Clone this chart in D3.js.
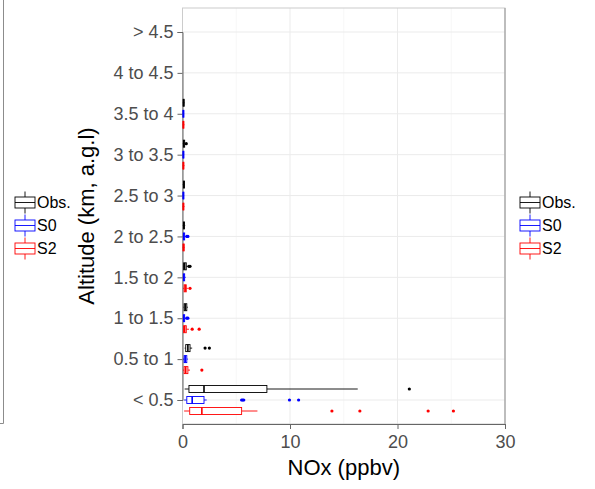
<!DOCTYPE html>
<html><head><meta charset="utf-8">
<script src="https://cdn.jsdelivr.net/npm/d3@7"></script>
<style>body{margin:0;background:#fff}svg{display:block;font-family:"Liberation Sans",Arial,sans-serif}</style>
</head><body>
<svg id="c" width="595" height="489"></svg>
<script>
// Altitude bins, bottom to top
const categories = ["< 0.5","0.5 to 1","1 to 1.5","1.5 to 2","2 to 2.5","2.5 to 3","3 to 3.5","3.5 to 4","4 to 4.5","> 4.5"];
const seriesNames = ["Obs.","S0","S2"];
const seriesColors = ["#000000","#0000ff","#ff0000"];
const xTicks = [0,10,20,30];
// box stats per bin: [lower whisker, q1, median, q3, upper whisker]
const obsStats = [[0.2,0.6,2.0,7.85,16.3],[0.2,0.3,0.5,0.7,0.9],[0.1,0.15,0.25,0.4,0.5],[0.05,0.1,0.2,0.35,0.5],[0.03,0.08,0.12,0.18,0.25],[0.03,0.08,0.12,0.18,0.22],[0.03,0.08,0.12,0.2,0.28],[0.03,0.07,0.1,0.15,0.2],null,null];
const obsOutliers = [[21.1],[2.1,2.5],[],[0.6,0.7],[],[],[0.35],[],[],[]];
const s0Stats = [[0.15,0.4,0.9,2.0,2.25],[0.05,0.15,0.25,0.4,0.5],[0.03,0.08,0.12,0.2,0.3],[0.03,0.08,0.12,0.2,0.3],[0.03,0.08,0.12,0.2,0.3],[0.02,0.05,0.08,0.1,0.15],[0.02,0.05,0.08,0.1,0.15],[0.02,0.05,0.08,0.1,0.15],null,null];
const s0Outliers = [[5.5,5.6,5.7,9.95,10.8],[],[0.4,0.5],[],[0.4,0.5],[],[],[],[],[]];
const s2Stats = [[0.15,0.67,1.8,5.5,6.97],[0.05,0.15,0.3,0.5,0.7],[0.05,0.1,0.2,0.35,0.6],[0.05,0.15,0.25,0.35,0.5],[0.02,0.05,0.1,0.15,0.2],[0.02,0.05,0.08,0.12,0.18],[0.02,0.05,0.08,0.12,0.18],[0.02,0.05,0.08,0.12,0.18],null,null];
const s2Outliers = [[13.9,16.5,22.85,25.2],[1.8],[0.9,1.55],[0.7],[],[],[],[],[],[]];

const stats = [obsStats, s0Stats, s2Stats];
const outliers = [obsOutliers, s0Outliers, s2Outliers];

const svg = d3.select("#c");
const L = 182.5, R = 505, T = 8, B = 424;
const x = d3.scaleLinear().domain([0,30]).range([L,R]);
const y = d3.scalePoint().domain(categories).range([400,32]);
const dodge = d3.scalePoint().domain(seriesNames).range([-11,11]);
const boxH = 7;

// left cut-off panel border
svg.append("path").attr("d","M3.5,0V423.5H0").attr("fill","none").attr("stroke","#8c8c8c").attr("stroke-width",1);

// grid
const g = svg.append("g");
[5,15,25].forEach(v=>g.append("line").attr("x1",x(v)).attr("x2",x(v)).attr("y1",T).attr("y2",B).attr("stroke","#f2f2f2").attr("stroke-width",0.6));
xTicks.forEach(v=>g.append("line").attr("x1",x(v)).attr("x2",x(v)).attr("y1",T).attr("y2",B).attr("stroke","#ebebeb").attr("stroke-width",1));
categories.forEach(c=>g.append("line").attr("x1",L).attr("x2",R).attr("y1",y(c)).attr("y2",y(c)).attr("stroke","#ebebeb").attr("stroke-width",1));
// panel border
g.append("rect").attr("x",L).attr("y",T).attr("width",R-L).attr("height",B-T).attr("fill","none").attr("stroke","#cccccc").attr("stroke-width",1);
g.append("line").attr("x1",R).attr("x2",R).attr("y1",T).attr("y2",B).attr("stroke","#999").attr("stroke-width",1);

// axes
const xAxis = svg.append("g").attr("transform",`translate(0,${B})`)
  .call(d3.axisBottom(x).tickValues(xTicks).tickSize(5).tickPadding(5).tickFormat(d3.format("d")));
const yAxis = svg.append("g").attr("transform",`translate(${L},0)`)
  .call(d3.axisLeft(y).tickSize(5).tickPadding(4));
[xAxis,yAxis].forEach(a=>{
  a.select(".domain").attr("stroke","#666").attr("stroke-width",1);
  a.selectAll(".tick line").attr("stroke","#666");
  a.selectAll("text").attr("fill","#4d4d4d").style("font-size","18px").style("font-family","Liberation Sans, Arial, sans-serif");
});
xAxis.selectAll("text").attr("dy","0.75em");

// boxes
seriesNames.forEach((s,si)=>{
  const col = seriesColors[si];
  const gs = svg.append("g");
  categories.forEach((c,ci)=>{
    const st = stats[si][ci];
    if(!st) return;
    const cy = y(c) + dodge(s);
    const [lo,q1,md,q3,hi] = st;
    gs.append("line").attr("x1",x(lo)).attr("x2",x(q1)).attr("y1",cy).attr("y2",cy).attr("stroke",col).attr("stroke-width",0.9);
    gs.append("line").attr("x1",x(q3)).attr("x2",x(hi)).attr("y1",cy).attr("y2",cy).attr("stroke",col).attr("stroke-width",0.9);
    gs.append("rect").attr("x",x(q1)).attr("y",cy-boxH/2).attr("width",Math.max(x(q3)-x(q1),0.8)).attr("height",boxH)
      .attr("fill","#fff").attr("stroke",col).attr("stroke-width",0.9);
    gs.append("line").attr("x1",x(md)).attr("x2",x(md)).attr("y1",cy-boxH/2).attr("y2",cy+boxH/2).attr("stroke",col).attr("stroke-width",1.6);
    outliers[si][ci].forEach(v=>gs.append("circle").attr("cx",x(v)).attr("cy",cy).attr("r",1.6).attr("fill",col));
  });
});

// axis titles
svg.append("text").attr("x",(L+R)/2).attr("y",475).attr("text-anchor","middle").style("font-size","22px").attr("fill","#000").text("NOx (ppbv)");
svg.append("text").attr("transform",`translate(94,${(T+B)/2}) rotate(-90)`).attr("text-anchor","middle").style("font-size","22px").attr("fill","#000").text("Altitude (km, a.g.l)");

// legends
function legend(x0){
  const lg = svg.append("g");
  const ys = [202.5,225.5,248.5];
  seriesNames.forEach((s,i)=>{
    const cy = ys[i], col = seriesColors[i];
    lg.append("line").attr("x1",x0+10).attr("x2",x0+10).attr("y1",cy-11).attr("y2",cy+11).attr("stroke",col).attr("stroke-width",0.9);
    lg.append("rect").attr("x",x0).attr("y",cy-5.5).attr("width",20).attr("height",11).attr("fill","#fff").attr("stroke",col).attr("stroke-width",0.9);
    lg.append("line").attr("x1",x0).attr("x2",x0+20).attr("y1",cy).attr("y2",cy).attr("stroke",col).attr("stroke-width",0.9);
    lg.append("text").attr("x",x0+22).attr("y",cy).attr("dy","0.36em").style("font-size","16px").attr("fill","#000").text(s);
  });
}
legend(520);
legend(15);
</script>
</body></html>
